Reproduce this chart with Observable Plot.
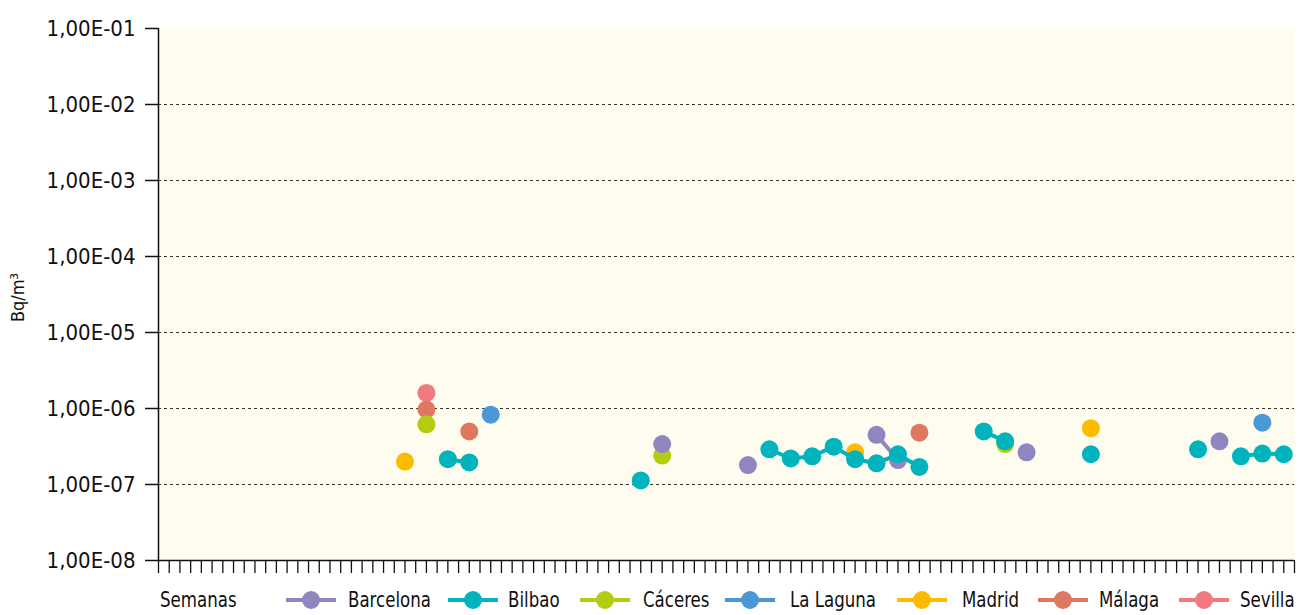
<!DOCTYPE html>
<html>
<head>
<meta charset="utf-8">
<script src="https://cdn.jsdelivr.net/npm/d3@7"></script>
<script src="https://cdn.jsdelivr.net/npm/@observablehq/plot@0.6"></script>
<style>
  html, body { margin: 0; padding: 0; background: #fff; }
  body { width: 1298px; height: 615px; overflow: hidden; font-family: "Liberation Sans Narrow", "DejaVu Sans Condensed", "Arial Narrow", sans-serif; color: #111; }
  #chart { position: relative; width: 1298px; height: 580px; }
  #legend { position: relative; width: 1298px; height: 35px; margin-top: 4px; font-size: 22px; }
  .lg { position: absolute; top: 0; height: 31px; display: flex; align-items: center; white-space: nowrap; }
  .lbl { display: inline-block; transform: scaleX(0.84); transform-origin: left center; }
  .sw { position: absolute; top: 0; width: 50px; height: 31px; }
  .sw .ln { position: absolute; left: 0; right: 0; top: 13.5px; height: 4px; }
  .sw .dt { position: absolute; left: 16px; top: 6.5px; width: 18px; height: 18px; border-radius: 50%; }
</style>
</head>
<body>
<div id="chart"></div>
<div id="legend"></div>
<script>
// ---- data ----
const seriesNames = ["Barcelona", "Bilbao", "Cáceres", "La Laguna", "Madrid", "Málaga", "Sevilla"];
const seriesColors = ["#9086BF", "#00B3BD", "#B3CC0F", "#4B98D6", "#FDBB00", "#DE7860", "#F07A80"];
const nWeeks = 53;
const yTickValues = [1e-8, 1e-7, 1e-6, 1e-5, 1e-4, 1e-3, 1e-2, 1e-1];
const yTickLabels = ["1,00E-08", "1,00E-07", "1,00E-06", "1,00E-05", "1,00E-04", "1,00E-03", "1,00E-02", "1,00E-01"];

const barcelonaWeeks  = [24, 28, 34, 35, 41, 50];
const barcelonaValues = [3.4e-7, 1.8e-7, 4.5e-7, 2.1e-7, 2.65e-7, 3.7e-7];

const bilbaoWeeks  = [14, 15, 23, 29, 30, 31, 32, 33, 34, 35, 36, 39, 40, 44, 49, 51, 52, 53];
const bilbaoValues = [2.15e-7, 1.95e-7, 1.13e-7, 2.9e-7, 2.2e-7, 2.35e-7, 3.15e-7, 2.15e-7, 1.9e-7, 2.5e-7, 1.7e-7, 5.0e-7, 3.7e-7, 2.5e-7, 2.9e-7, 2.35e-7, 2.55e-7, 2.5e-7];

const caceresWeeks  = [13, 24, 40];
const caceresValues = [6.2e-7, 2.4e-7, 3.4e-7];

const lagunaWeeks  = [16, 52];
const lagunaValues = [8.3e-7, 6.5e-7];

const madridWeeks  = [12, 33, 44];
const madridValues = [2.0e-7, 2.65e-7, 5.5e-7];

const malagaWeeks  = [13, 15, 36];
const malagaValues = [9.7e-7, 5.0e-7, 4.8e-7];

const sevillaWeeks  = [13];
const sevillaValues = [1.6e-6];

const seriesWeeks  = [barcelonaWeeks, bilbaoWeeks, caceresWeeks, lagunaWeeks, madridWeeks, malagaWeeks, sevillaWeeks];
const seriesValues = [barcelonaValues, bilbaoValues, caceresValues, lagunaValues, madridValues, malagaValues, sevillaValues];

// full weekly table (null = no measurement -> line gap)
function fullSeries(weeks, values, name) {
  const rows = [];
  for (let w = 1; w <= nWeeks; w++) {
    const k = weeks.indexOf(w);
    rows.push({ week: w, value: k >= 0 ? values[k] : null, name });
  }
  return rows;
}
const tables = seriesNames.map((n, i) => fullSeries(seriesWeeks[i], seriesValues[i], n));

// draw order (last on top)
const drawOrder = [6, 5, 4, 3, 2, 0, 1];

const xTicks = d3.range(0.5, nWeeks + 0.51, 0.5);

const marks = [
  Plot.frame({ fill: "#FEFCEE", stroke: null }),
  Plot.ruleY(yTickValues.slice(1, 7), { stroke: "#333", strokeWidth: 1.2, strokeDasharray: "3,3" }),
];
for (const i of drawOrder) {
  marks.push(Plot.line(tables[i], { x: "week", y: "value", stroke: seriesColors[i], strokeWidth: 4, curve: "linear" }));
  marks.push(Plot.dot(tables[i], { x: "week", y: "value", fill: seriesColors[i], r: 9, stroke: null }));
}
marks.push(
  Plot.ruleX([0.5], { stroke: "#111", strokeWidth: 1.5 }),
  Plot.ruleY([1e-8], { stroke: "#111", strokeWidth: 1.5 }),
  Plot.axisY({ ticks: yTickValues, tickFormat: (d) => yTickLabels[yTickValues.indexOf(d)], tickSize: 13, tickPadding: 10, fontSize: 22, label: null, stroke: "#111", strokeWidth: 1.5, fill: "#111" }),
  Plot.axisX({ ticks: xTicks, tickFormat: () => "", tickSize: 13, label: null, stroke: "#111", strokeWidth: 1.3 }),
  Plot.text(["Bq/m³"], { frameAnchor: "left", dx: -140, dy: 3, rotate: -90, textAnchor: "middle", fontSize: 18, fill: "#111" })
);

const chart = Plot.plot({
  width: 1298,
  height: 580,
  marginLeft: 158,
  marginRight: 4,
  marginTop: 28,
  marginBottom: 20,
  style: { fontFamily: '"Liberation Sans Narrow", "DejaVu Sans Condensed", "Arial Narrow", sans-serif', background: "#fff", overflow: "visible" },
  x: { domain: [0.5, nWeeks + 0.5] },
  y: { type: "log", domain: [1e-8, 1e-1] },
  marks
});
document.getElementById("chart").appendChild(chart);

// legend
const legend = document.getElementById("legend");
const swatchLeft = [286, 448, 580, 725, 897, 1038, 1179];
const textLeft = [348, 508, 643, 790, 962, 1099, 1240];
const sem = document.createElement("div");
sem.className = "lg"; sem.style.left = "160px";
sem.innerHTML = `<span class="lbl">Semanas</span>`;
legend.appendChild(sem);
seriesNames.forEach((n, i) => {
  const sw = document.createElement("div");
  sw.className = "sw";
  sw.style.left = swatchLeft[i] + "px";
  sw.innerHTML = `<div class="ln" style="background:${seriesColors[i]}"></div><div class="dt" style="background:${seriesColors[i]}"></div>`;
  legend.appendChild(sw);
  const item = document.createElement("div");
  item.className = "lg";
  item.style.left = textLeft[i] + "px";
  item.innerHTML = `<span class="lbl">${n}</span>`;
  legend.appendChild(item);
});
</script>
</body>
</html>
